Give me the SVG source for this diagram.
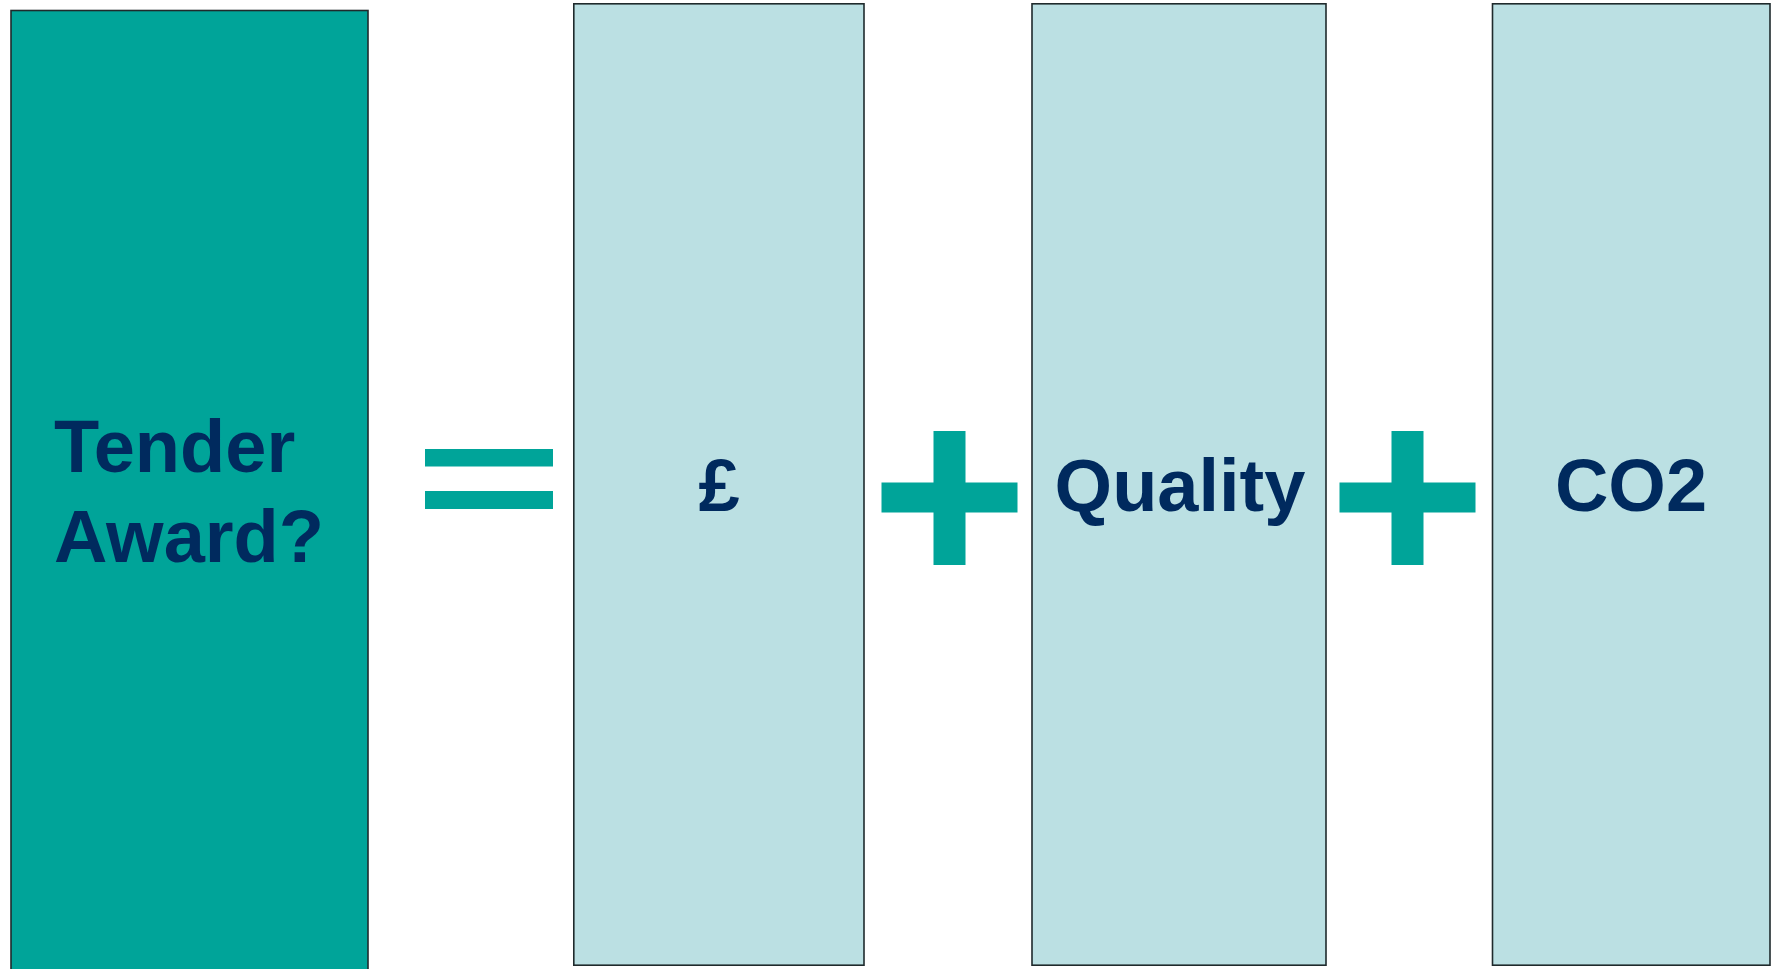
<svg xmlns="http://www.w3.org/2000/svg" width="1773" height="969" viewBox="0 0 1773 969">
<style>
.box{stroke:#1f2a2c;stroke-width:1.6}
.dark{fill:#00A499}
.light{fill:#BBE0E3}
.sym{fill:#00A499}
.lbl{font-family:"Liberation Sans",Arial,sans-serif;font-weight:bold;font-size:74px;fill:#002A5E}
</style>
<rect width="1773" height="969" fill="#ffffff"/>
<g id="node-tender">
<rect class="box dark" x="11" y="10.5" width="357" height="970"/>
<text class="lbl" x="54" y="472">Tender</text>
<text class="lbl" x="54" y="562">Award?</text>
</g>
<g id="equals">
<rect class="sym" x="425" y="449" width="128" height="17.5"/>
<rect class="sym" x="425" y="491" width="128" height="18"/>
</g>
<g id="node-price">
<rect class="box light" x="573.8" y="3.8" width="290.2" height="961.4"/>
<text class="lbl" x="719" y="511" text-anchor="middle">£</text>
</g>
<g id="plus1">
<rect class="sym" x="933.5" y="431" width="32" height="134"/>
<rect class="sym" x="881.5" y="482.5" width="136" height="30"/>
</g>
<g id="node-quality">
<rect class="box light" x="1032" y="3.8" width="294" height="961.4"/>
<text class="lbl" x="1180" y="511" text-anchor="middle">Quality</text>
</g>
<g id="plus2">
<rect class="sym" x="1391.5" y="431" width="32" height="134"/>
<rect class="sym" x="1339.5" y="482.5" width="136" height="30"/>
</g>
<g id="node-co2">
<rect class="box light" x="1492.5" y="3.8" width="277.5" height="961.4"/>
<text class="lbl" x="1631" y="511" text-anchor="middle">CO2</text>
</g>
<g id="connectors"></g>
</svg>
